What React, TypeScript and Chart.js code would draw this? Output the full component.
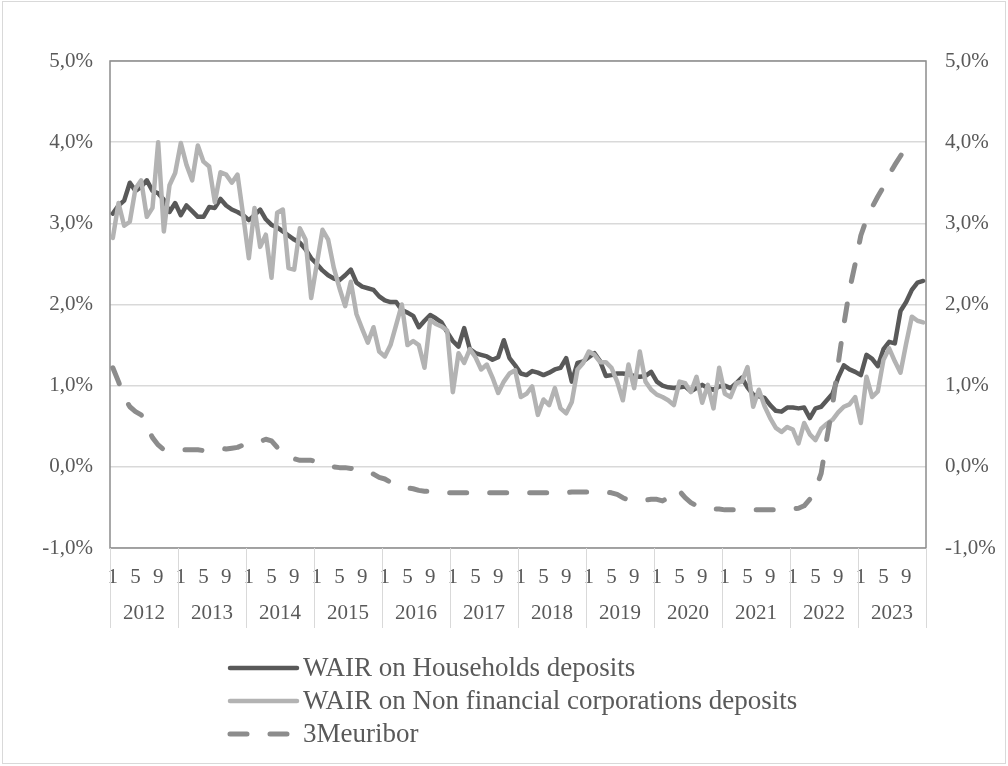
import React, { useEffect, useRef } from "react";
import { Chart, registerables } from "chart.js";

Chart.register(...registerables);

// ---------- data ----------
const years = ["2012", "2013", "2014", "2015", "2016", "2017", "2018", "2019", "2020", "2021", "2022", "2023"];
const monthNumbers = ["1", "2", "3", "4", "5", "6", "7", "8", "9", "10", "11", "12"];
const shownMonths = ["1", "5", "9"];

const seriesLabels = [
  "WAIR on Households deposits",
  "WAIR on Non financial corporations deposits",
  "3Meuribor",
];

const households = [
  3.12, 3.22, 3.28, 3.50, 3.40, 3.45, 3.53, 3.40, 3.37, 3.29, 3.14, 3.25,
  3.10, 3.22, 3.15, 3.08, 3.08, 3.20, 3.19, 3.30, 3.22, 3.17, 3.14, 3.10,
  3.04, 3.10, 3.17, 3.05, 2.98, 2.95, 2.90, 2.85, 2.80, 2.76, 2.68, 2.57,
  2.50, 2.42, 2.36, 2.32, 2.30, 2.36, 2.43, 2.27, 2.22, 2.20, 2.18, 2.10,
  2.05, 2.03, 2.03, 1.93, 1.90, 1.86, 1.72, 1.80, 1.87, 1.83, 1.78, 1.66,
  1.55, 1.48, 1.71, 1.45, 1.40, 1.38, 1.36, 1.32, 1.35, 1.56, 1.34, 1.25,
  1.15, 1.13, 1.18, 1.16, 1.13, 1.16, 1.20, 1.22, 1.34, 1.05, 1.28, 1.30,
  1.35, 1.40, 1.30, 1.12, 1.13, 1.15, 1.15, 1.14, 1.12, 1.11, 1.12, 1.17,
  1.05, 1.00, 0.98, 0.97, 0.98, 0.99, 0.93, 0.97, 1.01, 0.97, 0.95, 0.99,
  1.00, 0.97, 1.03, 1.10, 0.98, 0.89, 0.87, 0.85, 0.76, 0.69, 0.68, 0.73,
  0.73, 0.72, 0.73, 0.60, 0.72, 0.74, 0.82, 0.90, 1.10, 1.25, 1.20, 1.17,
  1.13, 1.38, 1.33, 1.24, 1.45, 1.54, 1.52, 1.92, 2.03, 2.18, 2.27, 2.29,
];

const nonFinancial = [
  2.82, 3.25, 2.97, 3.02, 3.43, 3.53, 3.08, 3.19, 4.00, 2.90, 3.47, 3.62,
  3.99, 3.72, 3.53, 3.96, 3.76, 3.70, 3.26, 3.63, 3.60, 3.50, 3.60, 3.10,
  2.57, 3.19, 2.71, 2.86, 2.33, 3.13, 3.17, 2.45, 2.43, 2.94, 2.80, 2.08,
  2.50, 2.92, 2.80, 2.45, 2.20, 1.98, 2.28, 1.88, 1.70, 1.53, 1.72, 1.42,
  1.36, 1.50, 1.75, 2.00, 1.50, 1.55, 1.50, 1.22, 1.81, 1.76, 1.73, 1.68,
  0.92, 1.40, 1.28, 1.45, 1.35, 1.20, 1.26, 1.10, 0.91, 1.05, 1.15, 1.19,
  0.86, 0.90, 0.99, 0.64, 0.83, 0.76, 0.97, 0.72, 0.66, 0.80, 1.20, 1.28,
  1.42, 1.38, 1.29, 1.29, 1.22, 1.05, 0.82, 1.26, 0.97, 1.42, 1.05, 0.95,
  0.89, 0.86, 0.82, 0.76, 1.05, 1.03, 0.92, 1.11, 0.79, 1.01, 0.72, 1.22,
  0.90, 0.86, 1.03, 1.05, 1.23, 0.74, 0.95, 0.75, 0.60, 0.48, 0.43, 0.49,
  0.46, 0.29, 0.54, 0.40, 0.33, 0.47, 0.53, 0.58, 0.67, 0.74, 0.77, 0.86,
  0.54, 1.11, 0.86, 0.93, 1.32, 1.46, 1.30, 1.16, 1.52, 1.85, 1.80, 1.78,
];

const euribor3m = [
  1.22, 1.05, 0.86, 0.74, 0.68, 0.64, 0.50, 0.36, 0.27, 0.21, 0.20, 0.20,
  0.21, 0.21, 0.21, 0.21, 0.20, 0.21, 0.22, 0.23, 0.22, 0.23, 0.24, 0.27,
  0.29, 0.29, 0.31, 0.34, 0.32, 0.24, 0.21, 0.19, 0.10, 0.08, 0.08, 0.08,
  0.06, 0.05, 0.03, 0.00, -0.01, -0.01, -0.02, -0.03, -0.04, -0.05, -0.09, -0.13,
  -0.15, -0.19, -0.23, -0.25, -0.26, -0.27, -0.29, -0.30, -0.30, -0.31, -0.31, -0.32,
  -0.32, -0.32, -0.32, -0.32, -0.32, -0.32, -0.32, -0.32, -0.32, -0.32, -0.32, -0.32,
  -0.32, -0.32, -0.32, -0.32, -0.32, -0.32, -0.32, -0.32, -0.32, -0.31, -0.31, -0.31,
  -0.31, -0.31, -0.31, -0.31, -0.32, -0.34, -0.38, -0.41, -0.42, -0.42, -0.41, -0.40,
  -0.40, -0.42, -0.38, -0.28, -0.30, -0.38, -0.44, -0.48, -0.50, -0.51, -0.52, -0.52,
  -0.53, -0.53, -0.53, -0.53, -0.53, -0.53, -0.53, -0.53, -0.53, -0.53, -0.53, -0.53,
  -0.52, -0.51, -0.48, -0.40, -0.28, -0.08, 0.35, 0.75, 1.27, 1.75, 2.18, 2.50,
  2.85, 3.05, 3.20, 3.33, 3.45, 3.60, 3.72, 3.83, 3.93, null, null, null,
];

const yMin = -1;
const yMax = 5;
const yStep = 1;

// ---------- styles ----------
const FONT_FAMILY = "'Liberation Serif', 'Times New Roman', serif";
const TEXT_COLOR = "#595959";
const GRID_COLOR = "#d9d9d9";
const FRAME_COLOR = "#8c8c8c";

const categories = years.flatMap(() => monthNumbers);

const pctLabel = (v: number) => v.toFixed(1).replace(".", ",") + "%";

const decorPlugin = {
  id: "decor",
  beforeDraw(chart: any) {
    const { ctx, width, height } = chart;
    ctx.save();
    ctx.fillStyle = "#ffffff";
    ctx.fillRect(0, 0, width, height);
    ctx.strokeStyle = GRID_COLOR;
    ctx.lineWidth = 1;
    ctx.strokeRect(2.5, 1.5, width - 5, height - 4);
    ctx.restore();
  },
  beforeDatasetsDraw(chart: any) {
    const { ctx, chartArea: a } = chart;
    ctx.save();
    ctx.strokeStyle = FRAME_COLOR;
    ctx.lineWidth = 1.5;
    ctx.strokeRect(a.left, a.top, a.right - a.left, a.bottom - a.top);
    ctx.restore();
  },
  afterDraw(chart: any) {
    const { ctx, chartArea: a } = chart;
    const xs = chart.scales.x;
    const n = monthNumbers.length;
    ctx.save();
    // year separators
    const bounds: number[] = [];
    for (let k = 0; k <= years.length; k++) {
      let bx: number;
      if (k === 0) bx = a.left;
      else if (k === years.length) bx = a.right;
      else bx = (xs.getPixelForValue(k * n - 1) + xs.getPixelForValue(k * n)) / 2;
      bounds.push(bx);
    }
    ctx.strokeStyle = GRID_COLOR;
    ctx.lineWidth = 1;
    bounds.forEach((bx) => {
      ctx.beginPath();
      ctx.moveTo(Math.round(bx) + 0.5, a.bottom);
      ctx.lineTo(Math.round(bx) + 0.5, a.bottom + 80);
      ctx.stroke();
    });
    // year labels
    ctx.fillStyle = TEXT_COLOR;
    ctx.font = `21px ${FONT_FAMILY}`;
    ctx.textAlign = "center";
    ctx.textBaseline = "middle";
    years.forEach((y, k) => {
      ctx.fillText(y, (bounds[k] + bounds[k + 1]) / 2, a.bottom + 65);
    });
    // legend
    ctx.font = `27px ${FONT_FAMILY}`;
    ctx.textAlign = "left";
    chart.data.datasets.forEach((ds: any, i: number) => {
      const ly = a.bottom + 120 + i * 33;
      ctx.save();
      ctx.strokeStyle = ds.borderColor;
      ctx.lineWidth = ds.borderWidth;
      ctx.lineCap = "round";
      ctx.setLineDash(ds.borderDash || []);
      ctx.beginPath();
      ctx.moveTo(230, ly);
      ctx.lineTo(297, ly);
      ctx.stroke();
      ctx.restore();
      ctx.fillStyle = TEXT_COLOR;
      ctx.fillText(ds.label, 303, ly + 1);
    });
    ctx.restore();
  },
};

export default function App() {
  const canvasRef = useRef<HTMLCanvasElement | null>(null);

  useEffect(() => {
    document.body.style.margin = "0";
    const canvas = canvasRef.current;
    if (!canvas) return;
    const tickFont = { family: FONT_FAMILY, size: 21 };
    const chart = new Chart(canvas, {
      type: "line",
      data: {
        labels: categories,
        datasets: [
          {
            label: seriesLabels[0],
            data: households,
            borderColor: "#595959",
            backgroundColor: "#595959",
            borderWidth: 4.5,
            borderJoinStyle: "round",
            borderCapStyle: "round",
            pointRadius: 0,
            yAxisID: "y",
            order: 3,
          },
          {
            label: seriesLabels[1],
            data: nonFinancial,
            borderColor: "#b3b3b3",
            backgroundColor: "#b3b3b3",
            borderWidth: 4.5,
            borderJoinStyle: "round",
            borderCapStyle: "round",
            pointRadius: 0,
            yAxisID: "y",
            order: 2,
          },
          {
            label: seriesLabels[2],
            data: euribor3m,
            borderColor: "#8c8c8c",
            backgroundColor: "#8c8c8c",
            borderWidth: 5,
            borderDash: [17, 23],
            borderJoinStyle: "round",
            borderCapStyle: "round",
            pointRadius: 0,
            spanGaps: false,
            yAxisID: "y",
            order: 1,
          },
        ],
      },
      options: {
        animation: false,
        responsive: false,
        maintainAspectRatio: false,
        devicePixelRatio: 1,
        layout: { padding: { top: 61, left: 0, right: 0, bottom: 0 } },
        plugins: {
          legend: { display: false },
          tooltip: { enabled: false },
          title: { display: false },
        },
        elements: { line: { tension: 0 }, point: { radius: 0 } },
        scales: {
          x: {
            type: "category",
            offset: true,
            grid: { display: false, drawTicks: false },
            border: { display: false },
            ticks: {
              autoSkip: false,
              maxRotation: 0,
              minRotation: 0,
              padding: 17,
              color: TEXT_COLOR,
              font: tickFont,
              callback: (_v: any, i: number) => {
                const m = monthNumbers[i % monthNumbers.length];
                return shownMonths.includes(m) ? m : "";
              },
            },
            afterFit: (s: any) => {
              s.height = 218;
            },
          },
          y: {
            position: "left",
            min: yMin,
            max: yMax,
            grid: { color: GRID_COLOR, lineWidth: 1.5, drawTicks: false },
            border: { display: false },
            ticks: {
              stepSize: yStep,
              padding: 17,
              color: TEXT_COLOR,
              font: tickFont,
              callback: (v: any) => pctLabel(Number(v)),
            },
            afterFit: (s: any) => {
              s.width = 110;
            },
          },
          y1: {
            position: "right",
            min: yMin,
            max: yMax,
            grid: { display: false, drawTicks: false },
            border: { display: false },
            ticks: {
              stepSize: yStep,
              padding: 19,
              color: TEXT_COLOR,
              font: tickFont,
              callback: (v: any) => pctLabel(Number(v)),
            },
            afterFit: (s: any) => {
              s.width = 82;
            },
          },
        },
      },
      plugins: [decorPlugin],
    } as any);
    return () => chart.destroy();
  }, []);

  return (
    <div style={{ position: "absolute", left: 0, top: 0, width: 1008, height: 766 }}>
      <canvas ref={canvasRef} width={1008} height={766} style={{ display: "block" }} />
    </div>
  );
}
